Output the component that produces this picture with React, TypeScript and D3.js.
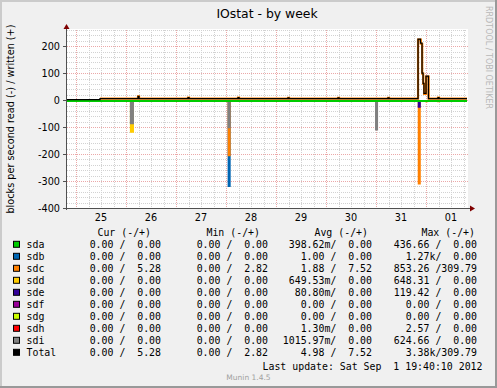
import React from 'react';
import * as d3 from 'd3';

const W = 497;
const H = 388;
const plot = { left: 67, right: 467, top: 30, bottom: 208 };

const parse = d3.timeParse('%Y-%m-%d %H:%M');
const startTime = '2012-08-24 19:40';
const endTime = '2012-09-01 19:40';

// x axis: days (labels sit at noon)
const dayTicks = ['2012-08-25', '2012-08-26', '2012-08-27', '2012-08-28', '2012-08-29', '2012-08-30', '2012-08-31', '2012-09-01'];
const dayLabels = ['25', '26', '27', '28', '29', '30', '31', '01'];
const yTicks = [200, 100, 0, -100, -200, -300, -400];

// written (+), step series
const sdaWrite: [string, number][] = [[startTime, 0], [endTime, 0]];
const sdcWrite: [string, number][] = [
  ['2012-08-25 11:30', 5.5], ['2012-08-26 05:45', 14], ['2012-08-26 06:15', 5.5],
  ['2012-08-27 05:45', 9], ['2012-08-27 06:15', 5.5], ['2012-08-28 05:45', 9], ['2012-08-28 06:15', 5.5],
  ['2012-08-29 05:45', 8], ['2012-08-29 06:15', 5.5], ['2012-08-30 05:45', 8], ['2012-08-30 06:15', 5.5],
  ['2012-08-31 05:45', 8], ['2012-08-31 06:15', 5.5],
  ['2012-08-31 20:10', 224], ['2012-08-31 21:30', 209], ['2012-08-31 22:10', 98], ['2012-08-31 22:40', 60],
  ['2012-08-31 23:05', 23], ['2012-09-01 00:00', 87], ['2012-09-01 01:15', 5.5],
  ['2012-09-01 05:45', 9], ['2012-09-01 06:15', 5.3], [endTime, 5.3],
];
const totalWrite: [string, number][] = [
  [startTime, 1.5], ['2012-08-25 11:30', 5.5], ['2012-08-26 05:45', 14], ['2012-08-26 06:15', 5.5],
  ['2012-08-27 05:45', 9], ['2012-08-27 06:15', 5.5], ['2012-08-28 05:45', 9], ['2012-08-28 06:15', 5.5],
  ['2012-08-29 05:45', 8], ['2012-08-29 06:15', 5.5], ['2012-08-30 05:45', 8], ['2012-08-30 06:15', 5.5],
  ['2012-08-31 05:45', 8], ['2012-08-31 06:15', 5.5],
  ['2012-08-31 20:10', 226], ['2012-08-31 21:20', 211], ['2012-08-31 22:05', 100], ['2012-08-31 22:35', 62],
  ['2012-08-31 23:00', 25], ['2012-09-01 00:00', 89], ['2012-09-01 01:10', 5.5],
  ['2012-09-01 05:45', 9], ['2012-09-01 06:15', 5.3], [endTime, 5.3],
];

// read (-), short bursts: [from, to, blocks/s]
const sdbRead: [string, string, number][] = [['2012-08-28 01:15', '2012-08-28 01:45', 318]];
const sdcRead: [string, string, number][] = [
  ['2012-08-28 01:15', '2012-08-28 01:45', 204],
  ['2012-08-31 20:30', '2012-08-31 21:00', 309],
  ['2012-09-01 00:00', '2012-09-01 00:30', 4],
  ['2012-09-01 05:45', '2012-09-01 06:15', 4],
];
const sddRead: [string, string, number][] = [['2012-08-26 02:20', '2012-08-26 03:20', 117]];
const sdeRead: [string, string, number][] = [['2012-08-31 20:30', '2012-08-31 21:00', 25]];
const sdiRead: [string, string, number][] = [
  ['2012-08-26 02:20', '2012-08-26 03:20', 86],
  ['2012-08-28 01:15', '2012-08-28 01:45', 101],
  ['2012-08-31 00:00', '2012-08-31 00:30', 109],
];

// legend
const devices = ['sda', 'sdb', 'sdc', 'sdd', 'sde', 'sdf', 'sdg', 'sdh', 'sdi', 'Total'];
const colors = ['#00CC00', '#0066B3', '#FF8000', '#FFCC00', '#330099', '#990099', '#CCFF00', '#FF0000', '#808080', '#000000'];
const curVals = ['0.00 /  0.00', '0.00 /  0.00', '0.00 /  5.28', '0.00 /  0.00', '0.00 /  0.00', '0.00 /  0.00', '0.00 /  0.00', '0.00 /  0.00', '0.00 /  0.00', '0.00 /  5.28'];
const minVals = ['0.00 /  0.00', '0.00 /  0.00', '0.00 /  2.82', '0.00 /  0.00', '0.00 /  0.00', '0.00 /  0.00', '0.00 /  0.00', '0.00 /  0.00', '0.00 /  0.00', '0.00 /  2.82'];
const avgVals = ['398.62m/  0.00', '1.00 /  0.00', '1.88 /  7.52', '649.53m/  0.00', '80.80m/  0.00', '0.00 /  0.00', '0.00 /  0.00', '1.30m/  0.00', '1015.97m/  0.00', '4.98 /  7.52'];
const maxVals = ['436.66 /  0.00', '1.27k/  0.00', '853.26 /309.79', '648.31 /  0.00', '119.42 /  0.00', '0.00 /  0.00', '0.00 /  0.00', '2.57 /  0.00', '624.66 /  0.00', '3.38k/309.79'];
const headers = ['Cur (-/+)', 'Min (-/+)', 'Avg (-/+)', 'Max (-/+)'];

const SANS = 'DejaVu Sans, sans-serif';
const MONO = 'DejaVu Sans Mono, monospace';

export default function App() {
  const x = d3.scaleTime()
    .domain([parse(startTime)!, parse(endTime)!])
    .range([plot.left, plot.right]);
  const y = d3.scaleLinear().domain([-400, 260]).range([plot.bottom, plot.top]);

  const stepLine = d3.line<[string, number]>()
    .x(d => x(parse(d[0])!))
    .y(d => y(d[1]))
    .curve(d3.curveStepAfter);

  const burst = (d: [string, string, number]) => {
    const x1 = x(parse(d[0])!);
    const x2 = x(parse(d[1])!);
    return `M${x1},${y(0)}V${y(-d[2])}H${x2}V${y(0)}`;
  };

  const reads: [[string, string, number][], string][] = [
    [sdbRead, colors[1]], [sdcRead, colors[2]], [sddRead, colors[3]], [sdeRead, colors[4]], [sdiRead, colors[8]],
  ];

  const minorY = d3.range(-400, 261, 20).filter(v => v % 100 !== 0);
  const days = dayTicks.map(d => d3.timeParse('%Y-%m-%d')(d)!);
  const minorX = d3.timeHour.every(6)!.range(parse(startTime)!, parse(endTime)!)
    .filter(d => d.getHours() !== 0);

  const colEnds = [161, 268, 372, 477];
  const headEnds = [151, 260, 368, 475];
  const rowY = (i: number) => 248.3 + i * 12;

  return (
    <svg width={W} height={H} style={{ position: 'absolute', left: 0, top: 0, display: 'block' }}>
      <rect x={0} y={0} width={W} height={H} fill="#F0F0F0" />
      <path d={`M0,0H${W}V2H2V${H}H0Z`} fill="#CBCBCB" />
      <path d={`M${W},${H}H0V${H - 2}H${W - 2}V0H${W}Z`} fill="#999999" />

      <rect x={plot.left} y={plot.top - 1} width={plot.right - plot.left + 1} height={plot.bottom - plot.top + 1} fill="#FFFFFF" />

      {/* minor grid */}
      <g stroke="#D2D2D2" strokeWidth={1} strokeDasharray="1,1" shapeRendering="crispEdges">
        {minorY.map(v => (
          <line key={'my' + v} x1={plot.left} x2={plot.right} y1={Math.round(y(v)) + 0.5} y2={Math.round(y(v)) + 0.5} />
        ))}
        {minorX.map(d => (
          <line key={'mx' + d.getTime()} x1={Math.round(x(d)) + 0.5} x2={Math.round(x(d)) + 0.5} y1={plot.top} y2={plot.bottom} />
        ))}
      </g>
      {/* major grid */}
      <g stroke="#EBA8A8" strokeWidth={1} strokeDasharray="1,1" shapeRendering="crispEdges">
        {yTicks.map(v => (
          <line key={'My' + v} x1={plot.left - 2} x2={plot.right + 2} y1={Math.round(y(v)) + 0.5} y2={Math.round(y(v)) + 0.5} />
        ))}
        {days.map(d => (
          <line key={'Mx' + d.getTime()} x1={Math.round(x(d)) + 0.5} x2={Math.round(x(d)) + 0.5} y1={plot.top} y2={plot.bottom + 2} />
        ))}
      </g>

      {/* read bursts (negative) */}
      {reads.map(([series, c], i) => (
        <g key={'r' + i}>
          {series.map((d, j) => (
            <path key={j} d={burst(d)} fill={c} stroke={c} strokeWidth={2} />
          ))}
        </g>
      ))}

      {/* written (positive) */}
      <path d={stepLine(sdaWrite)!} fill="none" stroke={colors[0]} strokeWidth={2} transform="translate(0,1)" />
      <path d={stepLine(sdcWrite)!} fill="none" stroke={colors[2]} strokeWidth={2.2} />
      <path d={stepLine(totalWrite)!} fill="none" stroke={colors[9]} strokeWidth={1.3} />

      {/* axes */}
      <g stroke="#505050" strokeWidth={1} shapeRendering="crispEdges">
        <line x1={plot.left - 0.5} x2={plot.left - 0.5} y1={plot.bottom + 2} y2={plot.top - 2} />
        <line x1={plot.left - 2} x2={plot.right + 4} y1={plot.bottom + 0.5} y2={plot.bottom + 0.5} />
        {yTicks.map(v => (
          <line key={'t' + v} x1={plot.left - 4} x2={plot.left} y1={Math.round(y(v)) + 0.5} y2={Math.round(y(v)) + 0.5} />
        ))}
      </g>
      <path d={`M${plot.left - 3.5},${plot.top - 1}L${plot.left - 0.5},${plot.top - 6}L${plot.left + 2.5},${plot.top - 1}Z`} fill="#7F0000" />
      <path d={`M${plot.right + 3},${plot.bottom - 2.5}L${plot.right + 8},${plot.bottom + 0.5}L${plot.right + 3},${plot.bottom + 3.5}Z`} fill="#7F0000" />

      {/* tick labels */}
      <g fontFamily={SANS} fontSize={9.7} fill="#000">
        {yTicks.map(v => (
          <text key={'yl' + v} x={60} y={y(v) + 3.5} textAnchor="end">{v}</text>
        ))}
        {days.map((d, i) => (
          <text key={'xl' + i} x={x(d3.timeHour.offset(d, 12))} y={221} textAnchor="middle">{dayLabels[i]}</text>
        ))}
      </g>

      {/* titles */}
      <text x={267} y={18} textAnchor="middle" fontFamily={SANS} fontSize={12.4}>IOstat - by week</text>
      <text transform={`translate(14,${(plot.top + plot.bottom) / 2}) rotate(-90)`} textAnchor="middle" fontFamily={SANS} fontSize={9.7}>
        blocks per second read (-) / written (+)
      </text>
      <text transform="translate(486,6) rotate(90)" fontFamily={SANS} fontSize={8} fill="#B8B8B8">RRDTOOL / TOBI OETIKER</text>

      {/* legend */}
      <g fontFamily={MONO} fontSize={9.9} fill="#000" style={{ whiteSpace: 'pre' }}>
        {headers.map((h, i) => (
          <text key={'h' + i} x={headEnds[i]} y={236.3} textAnchor="end">{h}</text>
        ))}
        {devices.map((dev, i) => (
          <g key={dev}>
            <rect x={13.5} y={rowY(i) - 7} width={6} height={6} fill={colors[i]} stroke="#000" strokeWidth={1} />
            <text x={26.5} y={rowY(i)}>{dev}</text>
            {[curVals[i], minVals[i], avgVals[i], maxVals[i]].map((v, k) => (
              <text key={k} x={colEnds[k]} y={rowY(i)} textAnchor="end" xmlSpace="preserve">{v}</text>
            ))}
          </g>
        ))}
        <text x={482.5} y={369.6} textAnchor="end" xmlSpace="preserve">Last update: Sat Sep  1 19:40:10 2012</text>
      </g>
      <text x={248.5} y={380} textAnchor="middle" fontFamily={SANS} fontSize={7.5} fill="#A0A0A0">Munin 1.4.5</text>
    </svg>
  );
}
